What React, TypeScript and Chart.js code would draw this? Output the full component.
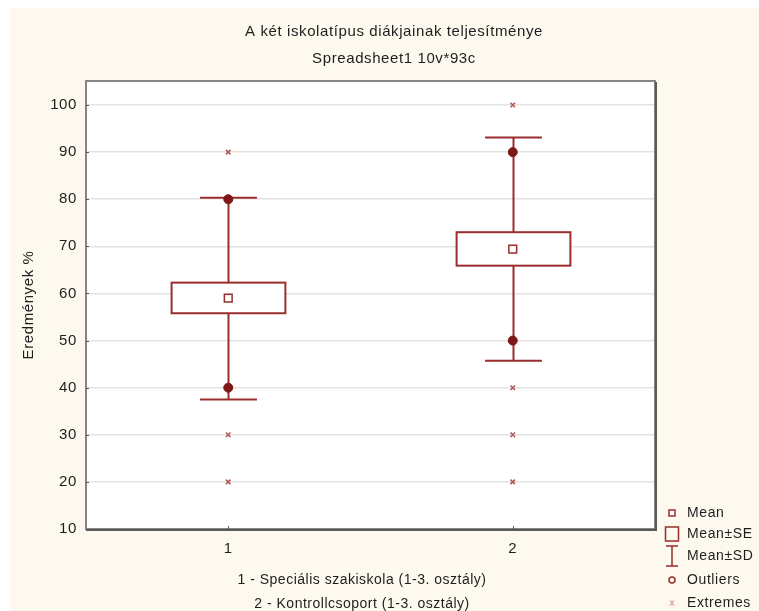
import { useEffect, useRef } from 'react';
import { Chart, registerables } from 'chart.js';

Chart.register(...registerables);

const TITLE = 'A két iskolatípus diákjainak teljesítménye';
const SUBTITLE = 'Spreadsheet1 10v*93c';
const Y_TITLE = 'Eredmények %';
const X_NOTES = ['1 - Speciális szakiskola (1-3. osztály)', '2 - Kontrollcsoport (1-3. osztály)'];

const categories = [1, 2];
const categoryLabels = ['1', '2'];
const means = [59.0, 69.4];
const seLow = [55.8, 65.9];
const seHigh = [62.3, 73.0];
const sdLow = [37.5, 45.7];
const sdHigh = [80.3, 93.1];
const outliers1 = [80, 40];
const outliers2 = [90, 50];
const extremes1 = [90, 30, 20];
const extremes2 = [100, 40, 30, 20];
const yMin = 10;
const yMax = 105.1;
const yStep = 10;
const legendLabels = ['Mean', 'Mean±SE', 'Mean±SD', 'Outliers', 'Extremes'];

const RED = '#9b2d2d';
const DARK_RED = '#7e1717';
const EXT = '#b25555';
const CREAM = '#fdf9ef';
const TEXT = '#1e1e1e';
const FONT = "'Liberation Sans', Arial, sans-serif";

const W = 751;
const H = 603;

export default function App() {
  const ref = useRef<HTMLCanvasElement | null>(null);

  useEffect(() => {
    document.body.style.margin = '0';
    document.documentElement.style.overflow = 'hidden';
    const canvas = ref.current;
    if (!canvas) return;

    const bgPlugin = {
      id: 'bg',
      beforeDraw(chart: any) {
        const { ctx, chartArea } = chart;
        ctx.save();
        ctx.fillStyle = '#ffffff';
        ctx.fillRect(0, 0, chart.width, chart.height);
        ctx.fillStyle = CREAM;
        ctx.fillRect(2, 0, chart.width - 2, chart.height);
        ctx.fillStyle = '#ffffff';
        ctx.fillRect(chartArea.left, chartArea.top, chartArea.right - chartArea.left, chartArea.bottom - chartArea.top);
        ctx.restore();
        ctx.letterSpacing = '0.6px';
      },
    };

    const boxPlugin = {
      id: 'boxes',
      beforeDatasetsDraw(chart: any) {
        const { ctx, chartArea } = chart;
        const x = chart.scales.x;
        const y = chart.scales.y;
        ctx.save();
        // frame
        ctx.strokeStyle = '#858585';
        ctx.lineWidth = 2;
        ctx.strokeRect(chartArea.left, chartArea.top, chartArea.right - chartArea.left, chartArea.bottom - chartArea.top);
        ctx.strokeStyle = '#5a5a5a';
        ctx.beginPath();
        ctx.moveTo(chartArea.right + 1, chartArea.top + 1);
        ctx.lineTo(chartArea.right + 1, chartArea.bottom + 1);
        ctx.lineTo(chartArea.left, chartArea.bottom + 1);
        ctx.stroke();
        // x tick marks
        ctx.strokeStyle = '#555';
        ctx.lineWidth = 1;
        categories.forEach((c) => {
          const px = Math.round(x.getPixelForValue(c)) + 0.5;
          ctx.beginPath();
          ctx.moveTo(px, chartArea.bottom - 3);
          ctx.lineTo(px, chartArea.bottom);
          ctx.stroke();
        });
        // y tick marks
        for (let v = yMin + yStep; v <= 100; v += yStep) {
          const py = Math.round(y.getPixelForValue(v)) + 0.5;
          ctx.beginPath();
          ctx.moveTo(chartArea.left, py);
          ctx.lineTo(chartArea.left + 3, py);
          ctx.stroke();
        }

        ctx.strokeStyle = RED;
        categories.forEach((c, i) => {
          const cx = Math.round(x.getPixelForValue(c)) + 0.5;
          const halfBox = x.getPixelForValue(c + 0.2) - x.getPixelForValue(c);
          const halfCap = x.getPixelForValue(c + 0.1) - x.getPixelForValue(c);
          const yTop = y.getPixelForValue(sdHigh[i]);
          const yBot = y.getPixelForValue(sdLow[i]);
          const bTop = y.getPixelForValue(seHigh[i]);
          const bBot = y.getPixelForValue(seLow[i]);
          ctx.lineWidth = 2;
          ctx.beginPath();
          ctx.moveTo(cx, yTop);
          ctx.lineTo(cx, bTop);
          ctx.moveTo(cx, bBot);
          ctx.lineTo(cx, yBot);
          ctx.moveTo(cx - halfCap, yTop);
          ctx.lineTo(cx + halfCap, yTop);
          ctx.moveTo(cx - halfCap, yBot);
          ctx.lineTo(cx + halfCap, yBot);
          ctx.stroke();
          ctx.fillStyle = '#ffffff';
          ctx.fillRect(cx - halfBox, bTop, halfBox * 2, bBot - bTop);
          ctx.lineWidth = 2;
          ctx.strokeRect(cx - halfBox, bTop, halfBox * 2, bBot - bTop);
        });
        ctx.restore();
      },
    };

    const textPlugin = {
      id: 'texts',
      afterDraw(chart: any) {
        const { ctx } = chart;
        ctx.save();
        ctx.fillStyle = TEXT;
        ctx.font = `15px ${FONT}`;
        ctx.letterSpacing = '0.6px';
        ctx.textAlign = 'center';
        ctx.textBaseline = 'middle';
        ctx.fillText(TITLE, 386, 24);
        ctx.fillText(SUBTITLE, 386, 51);
        ctx.font = `14px ${FONT}`;
        ctx.letterSpacing = '0.5px';
        ctx.fillText(X_NOTES[0], 354, 572);
        ctx.fillText(X_NOTES[1], 354, 596);

        // legend
        const sx = 664;
        const tx = 679;
        const rows = [505, 526, 548, 572, 595];
        ctx.textAlign = 'left';
        ctx.letterSpacing = '0.6px';
        legendLabels.forEach((l, i) => ctx.fillText(l, tx, rows[i]));
        ctx.letterSpacing = '0px';
        ctx.strokeStyle = RED;
        ctx.lineWidth = 1.5;
        // Mean
        ctx.fillStyle = '#fff';
        ctx.fillRect(sx - 3, rows[0] - 3, 6, 6);
        ctx.strokeRect(sx - 3, rows[0] - 3, 6, 6);
        // SE
        ctx.strokeRect(sx - 6.5, rows[1] - 7, 13, 14);
        // SD
        ctx.beginPath();
        ctx.moveTo(sx - 6, rows[2] - 10);
        ctx.lineTo(sx + 6, rows[2] - 10);
        ctx.moveTo(sx, rows[2] - 10);
        ctx.lineTo(sx, rows[2] + 10);
        ctx.moveTo(sx - 6, rows[2] + 10);
        ctx.lineTo(sx + 6, rows[2] + 10);
        ctx.stroke();
        // Outliers
        ctx.beginPath();
        ctx.arc(sx, rows[3], 3, 0, Math.PI * 2);
        ctx.stroke();
        // Extremes
        ctx.strokeStyle = '#d9a0a0';
        ctx.lineWidth = 1;
        ctx.beginPath();
        ctx.moveTo(sx - 2.5, rows[4] - 2.5);
        ctx.lineTo(sx + 2.5, rows[4] + 2.5);
        ctx.moveTo(sx + 2.5, rows[4] - 2.5);
        ctx.lineTo(sx - 2.5, rows[4] + 2.5);
        ctx.moveTo(sx, rows[4] - 3);
        ctx.lineTo(sx, rows[4] + 3);
        ctx.stroke();
        ctx.restore();
        ctx.letterSpacing = '0px';
      },
    };

    const meanData = categories.map((c, i) => ({ x: c, y: means[i] }));
    const outlierData = [
      ...outliers1.map((v) => ({ x: categories[0], y: v })),
      ...outliers2.map((v) => ({ x: categories[1], y: v })),
    ];
    const extremeData = [
      ...extremes1.map((v) => ({ x: categories[0], y: v })),
      ...extremes2.map((v) => ({ x: categories[1], y: v })),
    ];

    const chart = new Chart(canvas, {
      type: 'scatter',
      data: {
        datasets: [
          {
            label: 'Mean',
            data: meanData,
            pointStyle: 'rect',
            pointRadius: 5.5,
            backgroundColor: '#ffffff',
            borderColor: RED,
            borderWidth: 1.5,
          },
          {
            label: 'Outliers',
            data: outlierData,
            pointStyle: 'circle',
            pointRadius: 4.5,
            backgroundColor: DARK_RED,
            borderColor: DARK_RED,
            borderWidth: 1,
          },
          {
            label: 'Extremes',
            data: extremeData,
            pointStyle: 'crossRot',
            pointRadius: 3.2,
            backgroundColor: EXT,
            borderColor: EXT,
            borderWidth: 1.5,
          },
        ],
      },
      options: {
        responsive: false,
        animation: false,
        devicePixelRatio: 1,
        layout: { padding: { top: 73, right: 104, left: 0, bottom: 0 } },
        plugins: {
          legend: { display: false },
          title: { display: false },
          tooltip: { enabled: false },
        },
        scales: {
          x: {
            type: 'linear',
            min: 0.5,
            max: 2.5,
            grid: { display: false, drawTicks: false },
            border: { display: false },
            afterBuildTicks(scale: any) {
              scale.ticks = categories.map((c) => ({ value: c }));
            },
            afterFit(scale: any) {
              scale.height = 82;
            },
            ticks: {
              padding: 11,
              color: TEXT,
              font: { family: FONT, size: 15 },
              callback: (v: any) => categoryLabels[categories.indexOf(Number(v))] ?? '',
            },
          },
          y: {
            type: 'linear',
            min: yMin,
            max: yMax,
            grid: { color: '#e3e3e3', lineWidth: 1.5, drawTicks: false },
            border: { display: false },
            afterFit(scale: any) {
              scale.width = 78;
            },
            ticks: {
              stepSize: yStep,
              includeBounds: false,
              padding: 9,
              color: TEXT,
              font: { family: FONT, size: 15 },
            },
            title: {
              display: true,
              text: Y_TITLE,
              color: TEXT,
              font: { family: FONT, size: 15 },
              padding: { top: 12, bottom: 0 },
            },
          },
        },
      },
      plugins: [bgPlugin, boxPlugin, textPlugin],
    } as any);

    return () => chart.destroy();
  }, []);

  return (
    <div style={{ width: W, height: H, padding: '8px 0 0 8px', overflow: 'hidden' }}>
      <canvas ref={ref} width={W} height={H} style={{ display: 'block', width: W, height: H }} />
    </div>
  );
}
